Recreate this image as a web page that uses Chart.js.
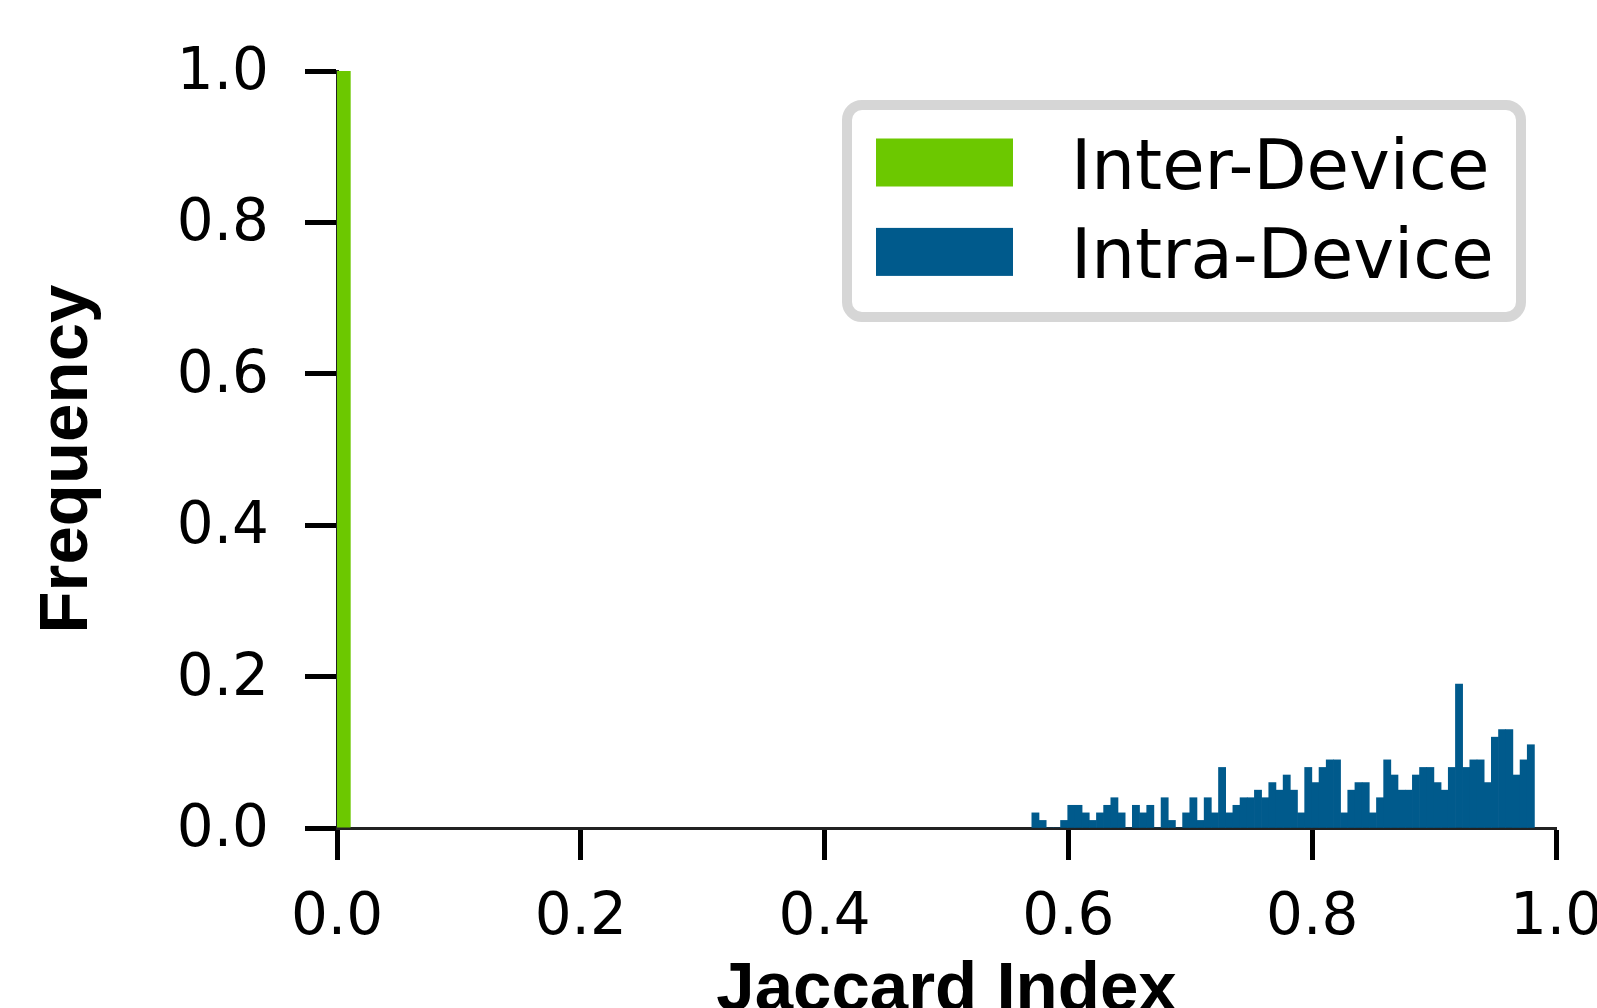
<!DOCTYPE html>
<html>
<head>
<meta charset="utf-8">
<script src="https://cdn.jsdelivr.net/npm/chart.js@4.4.1/dist/chart.umd.min.js"></script>
<style>
  html, body { margin: 0; padding: 0; background: #fff; }
  canvas { display: block; }
</style>
</head>
<body>
<canvas id="grafico" width="1597" height="1008"></canvas>
<script>
const grafico_canvas = document.getElementById("grafico");

const interLabel = "Inter-Device";
const intraLabel = "Intra-Device";

// Inter-Device: everything sits in the first bin
const interX = [0.0056];
const interFreq = [1.0];

// Intra-Device histogram, 70 bins starting at 0.570
const intraStart = 0.570;
const intraBinWidth = 0.00589;
const intraFreq = [
  0.02, 0.01, 0.0, 0.0, 0.01, 0.03, 0.03, 0.02, 0.01, 0.02,
  0.03, 0.04, 0.02, 0.0, 0.03, 0.02, 0.03, 0.0, 0.04, 0.01,
  0.0, 0.02, 0.04, 0.01, 0.04, 0.02, 0.08, 0.02, 0.03, 0.04,
  0.04, 0.05, 0.04, 0.06, 0.05, 0.07, 0.05, 0.02, 0.08, 0.06,
  0.08, 0.09, 0.09, 0.02, 0.05, 0.06, 0.06, 0.02, 0.04, 0.09,
  0.07, 0.05, 0.05, 0.07, 0.08, 0.08, 0.06, 0.05, 0.08, 0.19,
  0.08, 0.09, 0.09, 0.06, 0.12, 0.13, 0.13, 0.07, 0.09, 0.11,
];

const xTicks = [0.0, 0.2, 0.4, 0.6, 0.8, 1.0];
const yTicks = [0.0, 0.2, 0.4, 0.6, 0.8, 1.0];

const GREEN = "#6cc800";
const BLUE = "#005a8c";

const tickFont = { family: "DejaVu Sans", size: 58 };
const titleFont = { family: "Liberation Sans", size: 69, weight: "bold" };

// rounded legend box, matplotlib style
const legendBox = {
  id: "legendBox",
  afterDraw(chart) {
    const ctx = chart.ctx;
    ctx.save();
    ctx.lineWidth = 10;
    ctx.strokeStyle = "#d6d6d6";
    ctx.fillStyle = "#ffffff";
    ctx.beginPath();
    ctx.roundRect(847, 105, 674, 212, 15);
    ctx.fill();
    ctx.stroke();

    ctx.font = "69px 'DejaVu Sans'";
    ctx.textBaseline = "alphabetic";
    ctx.textAlign = "left";
    chart.data.datasets.forEach((ds, i) => {
      const y = 138.5 + i * 89.4;
      ctx.fillStyle = ds.backgroundColor;
      ctx.fillRect(876, y, 137, 48);
      ctx.fillStyle = "#000";
      ctx.fillText(ds.label, 1071, 188.5 + i * 89.4);
    });
    ctx.restore();
  },
};

const noPad = (axis) => {
  axis.paddingLeft = 0;
  axis.paddingRight = 0;
  axis.paddingTop = 0;
  axis.paddingBottom = 0;
};

const config = {
  type: "bar",
  data: {
    datasets: [
      {
        label: interLabel,
        data: interX.map((x, i) => ({ x: x, y: interFreq[i] })),
        backgroundColor: GREEN,
        barPercentage: 1.91,
        categoryPercentage: 1,
      },
      {
        label: intraLabel,
        data: intraFreq.map((f, i) => ({ x: intraStart + (i + 0.5) * intraBinWidth, y: f })),
        backgroundColor: BLUE,
        barPercentage: 1,
        categoryPercentage: 1,
      },
    ],
  },
  options: {
    responsive: false,
    animation: false,
    devicePixelRatio: 1,
    grouped: false,
    layout: {
      autoPadding: false,
      padding: { top: 71, right: 41, bottom: 0, left: 0 },
    },
    plugins: {
      legend: { display: false },
      tooltip: { enabled: false },
    },
    scales: {
      x: {
        type: "linear",
        min: 0,
        max: 1,
        offset: false,
        z: 1,
        afterBuildTicks: (axis) => {
          axis.ticks = xTicks.map((v) => ({ value: v }));
        },
        afterFit: (axis) => {
          axis.height = 180;
          noPad(axis);
        },
        grid: {
          offset: false,
          drawOnChartArea: false,
          drawTicks: true,
          tickLength: 32,
          tickWidth: 5,
          tickColor: "#000",
        },
        border: { display: true, color: "#222", width: 3 },
        ticks: {
          font: tickFont,
          color: "#000",
          padding: 24,
          maxRotation: 0,
          autoSkip: false,
          callback: (v) => Number(v).toFixed(1),
        },
        title: {
          display: true,
          text: "Jaccard Index",
          font: titleFont,
          color: "#000",
          padding: { top: 0, bottom: -24 },
        },
      },
      y: {
        min: 0,
        max: 1,
        afterBuildTicks: (axis) => {
          axis.ticks = yTicks.map((v) => ({ value: v }));
        },
        afterFit: (axis) => {
          axis.width = 337;
          noPad(axis);
        },
        grid: {
          drawOnChartArea: false,
          drawTicks: true,
          tickLength: 32,
          tickWidth: 5,
          tickColor: "#000",
        },
        border: { display: true, color: "#222", width: 3 },
        ticks: {
          font: tickFont,
          color: "#000",
          padding: 36,
          labelOffset: 3,
          callback: (v) => Number(v).toFixed(1),
        },
        title: {
          display: true,
          text: "Frequency ",
          font: titleFont,
          color: "#000",
          padding: { top: 27, bottom: 0 },
        },
      },
    },
  },
  plugins: [legendBox],
};

new Chart(grafico_canvas, config);
</script>
</body>
</html>
